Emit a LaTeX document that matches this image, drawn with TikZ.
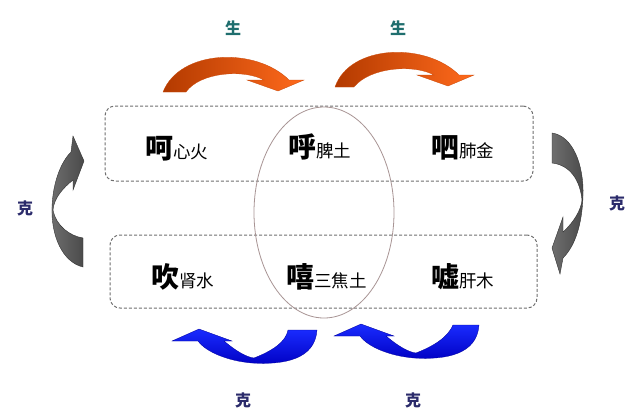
\documentclass[tikz,border=0pt]{standalone}
\usepackage{fontspec}
\newfontfamily\cjk{Noto Sans CJK SC}
\usetikzlibrary{shapes.geometric}
\definecolor{orA}{HTML}{B33A00}
\definecolor{orB}{HTML}{FF6A1C}
\definecolor{blA}{HTML}{1A2CFF}
\definecolor{blB}{HTML}{0000C4}
\definecolor{grA}{HTML}{6E6E6E}
\definecolor{grB}{HTML}{4A4A4A}
\definecolor{boxc}{HTML}{707070}
\definecolor{ellc}{HTML}{A89494}
\definecolor{shengc}{HTML}{1F6E6E}
\definecolor{kec}{HTML}{2B2B6B}
\newcommand{\bigc}[1]{{\fontsize{28}{28}\selectfont\bfseries #1}}
\newcommand{\smc}[1]{{\fontsize{17.5}{17.5}\selectfont #1}}
\tikzset{
  groupbox/.style={draw=boxc, line width=1pt, dash pattern=on 3pt off 2pt, rounded corners=10pt, inner sep=0pt},
  wordlbl/.style={font=\cjk, inner sep=0pt, anchor=base west, text=black},
  shenglbl/.style={font=\cjk\fontsize{16}{16}\selectfont\bfseries, text=shengc, inner sep=0pt},
  kelbl/.style={font=\cjk\fontsize{16}{16}\selectfont\bfseries, text=kec, inner sep=0pt},
  orarrow/.style={left color=orA, right color=orB, draw=orA!70!orB, line width=0.3pt},
  blarrow/.style={top color=blA, bottom color=blB, draw=blB!80!black, line width=0.3pt},
  grarrow/.style={left color=grA, right color=grB, draw=black!80, line width=0.4pt}
}
\begin{document}
\begin{tikzpicture}[x=1pt,y=-1pt]
\useasboundingbox (0,0) rectangle (639,410);
\fill[white] (0,0) rectangle (639,410);

% group boxes and ellipse
\node[groupbox, minimum width=428pt, minimum height=75pt] (topbox) at (319,143.5) {};
\node[groupbox, minimum width=427pt, minimum height=73pt] (botbox) at (323.5,271.5) {};
\node[ellipse, draw=ellc, line width=0.8pt, minimum width=140pt, minimum height=211pt, inner sep=0pt] (ell) at (324,212.5) {};

% words
\node[wordlbl] (he) at (145,158) {\bigc{呵}\smc{心火}};
\node[wordlbl] (hu) at (288,157) {\bigc{呼}\smc{脾土}};
\node[wordlbl] (si) at (431,157) {\bigc{呬}\smc{肺金}};
\node[wordlbl] (chui) at (151,287) {\bigc{吹}\smc{肾水}};
\node[wordlbl] (xi) at (286,287) {\bigc{嘻}\smc{三焦土}};
\node[wordlbl] (xu) at (431,287) {\bigc{嘘}\smc{肝木}};

% labels
\node[shenglbl] (s1) at (233,28) {生};
\node[shenglbl] (s2) at (398,28) {生};
\node[kelbl] (k1) at (25,208) {克};
\node[kelbl] (k2) at (617,203) {克};
\node[kelbl] (k3) at (243,400) {克};
\node[kelbl] (k4) at (413,400) {克};

% orange arrows (top)
\shade[orarrow] (163,92) .. controls (180,49) and (256,47) .. (289,80) -- (304,80) -- (278,91) -- (247,80) -- (264,80) .. controls (244,69) and (200,72) .. (186,92) -- cycle;
\begin{scope}[shift={(170,-5)}]
\shade[orarrow] (165,92) .. controls (180,49) and (256,47) .. (289,80) -- (304,80) -- (278,91) -- (247,80) -- (264,80) .. controls (244,69) and (200,72) .. (184,92) -- cycle;
\end{scope}

% blue arrows (bottom)
\shade[blarrow] (317,330) .. controls (315,359) and (285,365) .. (252,363) .. controls (228,361) and (206,352) .. (198,341) -- (172,341) -- (199,329) -- (232,341) -- (224,341) .. controls (236,351) and (246,357) .. (254,358) .. controls (272,351) and (286,342) .. (288,330) -- cycle;
\begin{scope}[shift={(162,-5)}]
\shade[blarrow] (317,330) .. controls (315,359) and (285,365) .. (252,363) .. controls (228,361) and (206,352) .. (198,341) -- (172,341) -- (199,329) -- (232,341) -- (224,341) .. controls (236,351) and (246,357) .. (254,358) .. controls (272,351) and (286,342) .. (291,330) -- cycle;
\end{scope}

% gray arrows (sides)
\shade[grarrow] (83,267) .. controls (62,262) and (51,235) .. (52,207) .. controls (53,182) and (61,162) .. (71,152) -- (73,136) -- (84,161) -- (73,190) -- (73,180) .. controls (63,188) and (54,198) .. (53,210) .. controls (56,226) and (70,236) .. (83,238) -- cycle;
\shade[grarrow] (552,133) .. controls (573,136) and (584,165) .. (583,196) .. controls (582,225) and (575,246) .. (563,258) -- (560,274) -- (552,248) -- (563,217) -- (563,232) .. controls (574,222) and (581,210) .. (582,200) .. controls (580,180) and (570,165) .. (552,163) -- cycle;
\end{tikzpicture}
\end{document}
